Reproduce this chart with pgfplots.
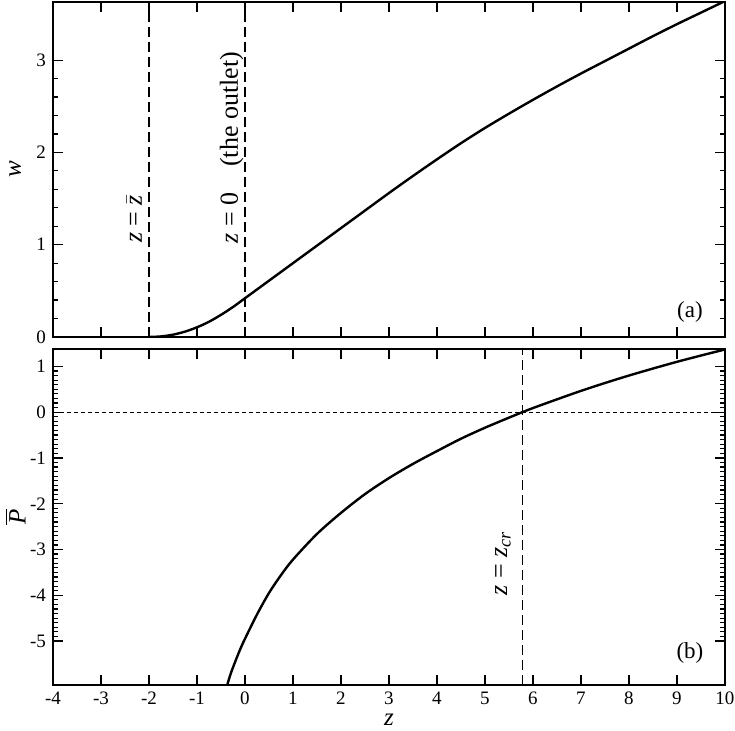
\documentclass[border=0pt]{standalone}
\usepackage{fontspec}
\setmainfont{Liberation Serif}
\usepackage{pgfplots}
\pgfplotsset{compat=1.18}
\usetikzlibrary{calc}

\pgfplotstableread{
z w
-2 0
-1.75 0.006
-1.5 0.025
-1.25 0.058
-1 0.105
-0.75 0.165
-0.5 0.24
-0.25 0.325
0 0.42
0.5 0.61
1 0.80
1.5 0.99
2 1.18
2.5 1.37
3 1.56
3.5 1.745
4 1.925
4.5 2.10
5 2.265
5.5 2.42
6 2.57
6.5 2.715
7 2.855
7.5 2.99
8 3.125
8.5 3.26
9 3.39
9.5 3.515
10 3.64
}\wdata

\pgfplotstableread{
z P
-0.37 -5.96
-0.3 -5.72
-0.2 -5.44
-0.1 -5.18
0 -4.95
0.25 -4.42
0.5 -3.95
0.75 -3.56
1 -3.22
1.5 -2.66
2 -2.20
2.5 -1.79
3 -1.44
3.5 -1.13
4 -0.85
4.5 -0.58
5 -0.34
5.5 -0.12
5.78 0
6 0.09
6.5 0.28
7 0.465
7.5 0.637
8 0.80
8.5 0.953
9 1.10
9.5 1.237
10 1.37
}\pdata

\tikzset{
  curve/.style={black, line width=1.2pt, smooth, tension=0.5},
  vdash/.style={black, line width=0.6pt, dash pattern=on 5pt off 2.5pt},
  hdot/.style={black, line width=0.6pt, dash pattern=on 2pt off 1.5pt},
  ann/.style={rotate=90, anchor=base, inner sep=0pt, font=\fontsize{13}{15}\selectfont},
  lab/.style={anchor=center, inner sep=0pt, font=\fontsize{11.5}{13}\selectfont},
}
\pgfplotsset{
  myax/.style={
    scale only axis,
    width=336pt,
    xmin=-4, xmax=10,
    xtick={-4,...,10},
    tick align=inside,
    major tick length=5pt,
    minor tick length=2.5pt,
    axis line style={line width=1pt},
    every tick/.style={black, line width=0.6pt},
    /pgf/number format/assume math mode=true,
    tick label style={font=\fontsize{9.5}{11}\selectfont},
    label style={font=\fontsize{12.5}{14}\selectfont},
    ylabel style={at={(axis description cs:-0.056,0.5)}, anchor=center},
    clip=true,
  },
}

\begin{document}
\begin{tikzpicture}
\begin{axis}[myax, name=top,
  height=167.5pt,
  ymin=0, ymax=3.63,
  ytick={0,1,2,3},
  minor y tick num=4,
  xticklabels={},
  ylabel={\textit{w}},
]
\addplot[vdash] coordinates {(-2,0) (-2,3.63)};
\addplot[vdash] coordinates {(0,0) (0,3.63)};
\addplot[curve] table[x=z, y=w] {\wdata};
\node[ann] at (axis cs:-2.146,1.28) {\textit{z} = $\bar{\mbox{\textit{z}}}$};
\node[ann] at (axis cs:-0.15,2.05) {\textit{z} = 0\quad(the outlet)};
\node[lab] at (axis cs:9.27,0.27) {(a)};
\end{axis}

\begin{axis}[myax, name=bot,
  at={($(top.south west)+(0,-6pt)$)}, anchor=north west,
  height=168pt,
  ymin=-5.96, ymax=1.38,
  ytick={-5,...,1},
  minor y tick num=9,
  xlabel={\textit{z}},
  xlabel style={at={(axis description cs:0.5,-0.104)}, anchor=center},
  ylabel={$\overline{\mbox{\textit{P}}}$},
]
\addplot[hdot] coordinates {(-4,0) (10,0)};
\addplot[vdash] coordinates {(5.78,-5.96) (5.78,1.38)};
\addplot[curve] table[x=z, y=P] {\pdata};
\node[ann] at (axis cs:5.46,-3.30) {\textit{z} = \textit{z}\textsubscript{\textit{cr}}};
\node[lab] at (axis cs:9.27,-5.25) {(b)};
\end{axis}

\pgfresetboundingbox
\path[use as bounding box] ($(top.north west)+(-26.5pt,1pt)$) rectangle ++(367.5pt,-365.5pt);
\end{tikzpicture}
\end{document}
